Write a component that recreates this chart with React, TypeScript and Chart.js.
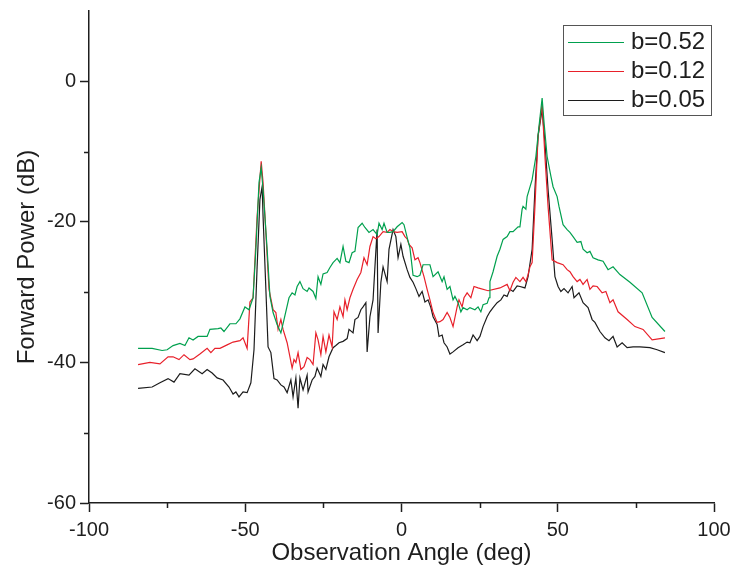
import React, { useEffect, useRef } from "react";
import { Chart, registerables } from "chart.js";

Chart.register(...registerables);

// ---------- data (angle in deg, forward power in dB) ----------
const seriesLabels = ["b=0.52", "b=0.12", "b=0.05"];
const seriesColors = ["#00a04e", "#e8202a", "#1c1c1c"];

const angleB052 = [
  -84.3, -79.8, -76.6, -75.0, -73.1, -70.9, -69.3, -68.0, -66.7, -65.1, -62.2, -61.3, -58.7, -57.8, -56.8, -54.9,
  -53.0, -51.7, -50.1, -48.8, -47.5, -46.6, -45.6, -44.9, -44.3, -43.0, -42.1, -41.1, -39.8, -38.6, -37.6, -36.0,
  -35.0, -34.1, -33.4, -32.5, -31.5, -30.2, -29.6, -28.3, -27.4, -26.7, -25.8, -25.1, -23.8, -22.9, -21.9, -20.6,
  -19.7, -18.7, -17.8, -16.8, -15.8, -14.9, -13.9, -12.6, -11.7, -10.4, -9.1, -7.8, -7.2, -6.2, -5.6, -4.6, -3.7,
  -2.7, -1.4, 0.2, 0.8, 1.8, 2.7, 3.7, 5.0, 5.9, 6.9, 9.1, 10.1, 11.7, 13.0, 13.6, 14.6, 15.5, 16.5, 17.1, 18.1,
  19.0, 19.7, 21.0, 21.9, 23.5, 24.5, 25.4, 26.1, 27.4, 28.0, 28.3, 29.3, 30.6, 31.5, 32.5, 33.8, 34.7, 35.7, 37.3,
  37.9, 38.6, 38.9, 39.8, 40.2, 41.8, 43.0, 44.0, 45.0, 45.6, 46.6, 47.8, 48.5, 49.8, 50.4, 51.7, 53.0, 53.9, 54.9,
  56.2, 57.4, 58.1, 59.4, 60.3, 61.3, 62.9, 64.5, 66.1, 67.7, 69.9, 73.1, 77.0, 80.2, 84.3,
];
const powerB052 = [
  -38.0, -38.0, -38.3, -38.2, -37.6, -37.3, -37.6, -36.5, -36.8, -36.3, -36.3, -35.3, -35.2, -35.1, -35.6, -34.5,
  -34.5, -33.8, -32.1, -32.5, -30.8, -23.9, -14.4, -12.3, -15.4, -23.9, -30.6, -32.9, -34.6, -35.8, -33.9, -30.8,
  -30.1, -30.4, -29.2, -28.5, -29.5, -29.9, -29.4, -29.9, -30.9, -27.8, -28.9, -27.4, -27.2, -26.5, -25.8, -25.2,
  -25.8, -23.5, -25.6, -25.8, -24.4, -24.2, -20.8, -20.2, -20.8, -21.5, -21.1, -21.8, -20.2, -21.1, -20.2, -21.5, -21.5,
  -21.4, -20.7, -20.1, -20.4, -22.2, -23.7, -27.6, -27.8, -27.6, -26.1, -26.1, -27.8, -27.1, -28.5, -27.8, -29.6, -29.2, -31.1, -30.6, -31.5,
  -32.8, -32.2, -32.5, -32.2, -32.5, -32.1, -32.8, -31.8, -31.6, -30.8, -28.5, -27.1, -24.9, -23.9, -22.5, -22.1, -21.4, -21.4, -20.7,
  -20.7, -18.2, -17.8, -18.2, -16.4, -14.0, -10.7, -6.4, -2.4, -5.8, -10.7, -13.5, -15.0, -16.4, -17.8, -20.4, -21.1, -21.5, -22.1,
  -22.9, -22.8, -23.9, -24.4, -24.2, -25.1, -25.4, -25.6, -26.8, -26.4, -27.5, -28.6, -30.1, -33.6, -35.6,
];

const angleB012 = [
  -84.3, -80.5, -77.3, -74.7, -73.1, -71.2, -69.6, -67.7, -66.7, -64.5, -62.2, -61.0, -59.7, -58.1, -55.8, -53.9,
  -51.7, -50.7, -49.4, -48.5, -47.5, -46.2, -44.9, -44.3, -43.4, -42.4, -41.1, -40.2, -39.5, -38.6, -37.9, -36.6,
  -35.7, -35.0, -34.4, -33.8, -33.1, -32.2, -31.2, -30.2, -29.3, -28.3, -27.4, -26.7, -25.8, -25.1, -24.2, -23.2,
  -22.2, -21.6, -20.6, -19.7, -18.7, -18.1, -17.4, -16.5, -15.5, -14.2, -13.0, -12.0, -11.0, -10.1, -9.1, -8.2,
  -7.2, -5.9, -4.6, -3.7, -2.7, -1.4, 0.2, 1.1, 1.8, 2.4, 3.4, 4.3, 5.3, 5.9, 7.2, 8.2, 9.1, 10.1, 11.4, 12.3,
  13.3, 14.6, 15.5, 16.5, 17.8, 18.4, 19.4, 20.0, 21.0, 22.2, 23.2, 24.5, 27.7, 31.5, 33.8, 34.7, 35.7, 36.6, 37.9,
  38.9, 39.8, 40.5, 41.1, 41.8, 42.7, 43.7, 45.0, 45.9, 46.9, 48.2, 49.8, 51.7, 53.0, 53.9, 54.9, 56.2, 57.1, 58.1,
  59.4, 60.3, 61.3, 62.6, 64.2, 65.4, 66.7, 67.7, 69.3, 72.2, 74.7, 77.3, 80.2, 84.3,
];
const powerB012 = [
  -40.3, -40.0, -40.2, -39.2, -39.2, -39.6, -38.9, -39.6, -39.5, -38.8, -38.0, -38.6, -38.0, -38.0, -37.5, -37.1,
  -36.9, -36.5, -38.0, -31.4, -30.8, -19.2, -11.4, -14.4, -21.5, -29.6, -32.5, -32.9, -35.3, -33.9, -35.3, -37.2,
  -39.2, -40.8, -39.6, -40.0, -38.6, -41.0, -40.6, -39.3, -39.6, -40.3, -35.8, -36.8, -38.9, -36.3, -38.5, -36.1,
  -37.8, -32.8, -33.9, -32.1, -33.5, -31.1, -32.5, -30.8, -29.6, -28.2, -27.2, -25.1, -26.1, -23.5, -22.1, -22.4,
  -22.1, -21.4, -21.5, -21.1, -21.4, -21.5, -21.4, -22.1, -22.4, -23.2, -23.7, -25.4, -25.1, -25.8, -27.8, -29.6, -31.1, -32.9, -34.3, -34.2,
  -33.9, -32.9, -33.6, -34.9, -32.1, -31.1, -32.1, -30.8, -30.1, -30.8, -29.2, -29.4, -29.8, -29.4, -28.9, -29.8, -28.6, -27.9, -28.5,
  -27.9, -28.5, -27.5, -26.4, -25.8, -17.8, -7.8, -3.3, -10.7, -17.8, -25.4, -25.8, -26.1, -26.8, -27.1, -27.8, -28.5, -28.2, -28.9,
  -28.2, -29.6, -29.1, -29.2, -30.1, -29.9, -31.5, -31.1, -32.8, -33.9, -34.9, -35.3, -36.8, -36.5,
];

const angleB005 = [
  -84.3, -79.8, -77.3, -74.7, -72.8, -70.9, -68.0, -66.1, -63.8, -62.2, -60.6, -59.0, -57.1, -55.2, -53.9, -53.0,
  -52.0, -50.7, -49.4, -48.2, -47.2, -46.2, -45.3, -44.6, -44.3, -43.4, -42.7, -41.8, -40.8, -39.8, -38.6, -37.6,
  -36.6, -35.4, -34.7, -33.8, -33.1, -32.5, -31.5, -30.2, -29.9, -28.6, -27.7, -27.0, -25.8, -25.1, -24.2, -23.2,
  -21.9, -21.0, -20.0, -18.7, -17.4, -16.8, -15.5, -14.9, -13.9, -13.0, -12.3, -11.4, -11.0, -10.1, -9.1, -8.5,
  -7.8, -7.5, -6.6, -5.9, -4.6, -4.0, -2.7, -1.8, -1.1, -0.2, 0.5, 1.8, 2.7, 3.7, 4.6, 5.6, 6.6, 7.5, 8.5, 9.4,
  10.1, 11.4, 12.0, 13.0, 13.6, 14.6, 15.5, 16.5, 18.1, 19.7, 21.0, 21.9, 22.9, 24.2, 25.1, 26.1, 27.4, 28.3, 29.3,
  30.6, 31.8, 32.8, 33.8, 34.7, 35.7, 37.0, 37.9, 39.5, 40.5, 41.8, 42.7, 43.7, 45.0, 45.9, 46.9, 48.2, 49.1, 50.1,
  51.0, 52.0, 53.3, 54.6, 55.2, 56.8, 58.1, 59.7, 61.0, 61.9, 63.5, 65.1, 66.4, 67.7, 69.0, 70.6, 72.2, 74.1, 76.3,
  79.5, 81.8, 84.3,
];
const powerB005 = [
  -43.7, -43.5, -42.9, -42.3, -42.8, -41.6, -41.8, -40.9, -41.6, -41.0, -41.5, -42.2, -42.5, -43.5, -44.5, -44.2,
  -44.9, -44.2, -44.3, -42.9, -38.2, -26.4, -16.8, -15.0, -19.2, -29.6, -37.8, -38.6, -42.3, -42.5, -43.2, -43.5,
  -44.3, -42.5, -44.9, -42.2, -46.5, -42.2, -43.9, -41.8, -44.2, -42.5, -42.0, -40.8, -42.0, -40.3, -41.0, -39.2,
  -37.9, -37.6, -37.2, -37.0, -36.6, -35.3, -35.8, -33.9, -33.6, -32.5, -32.1, -31.5, -38.5, -33.5, -31.1, -26.4,
  -21.1, -35.8, -28.6, -26.4, -28.5, -23.9, -21.1, -22.1, -25.1, -23.2, -24.9, -26.8, -27.9, -28.6, -29.5, -30.6, -29.9, -31.4, -31.1, -32.2,
  -33.5, -34.6, -36.3, -36.1, -37.2, -37.8, -38.8, -38.5, -37.9, -37.5, -37.1, -37.2, -36.1, -36.9, -36.3, -34.9, -33.5, -32.8, -32.2,
  -31.5, -31.1, -30.4, -30.6, -29.6, -29.9, -29.1, -29.2, -29.4, -27.8, -23.9, -15.4, -7.8, -4.0, -8.7, -15.4, -22.5, -27.8, -29.2,
  -29.9, -29.5, -30.1, -29.2, -30.8, -30.1, -31.5, -32.2, -33.9, -34.3, -35.6, -36.5, -36.9, -36.3, -37.8, -37.2, -37.9, -37.8, -37.8,
  -37.9, -38.2, -38.6,
];

const xMajorTicks = [-100, -50, 0, 50, 100];
const xMinorTicks = [-75, -25, 25, 75];
const yMajorTicks = [-60, -40, -20, 0];
const yMinorTicks = [-50, -30, -10];

const FONT = "'Liberation Sans', Arial, sans-serif";
const INK = "#1e1e1e";

const minorTickPlugin = {
  id: "minorTicks",
  afterDraw(chart: any) {
    const { ctx } = chart;
    const xs = chart.scales.x;
    const ys = chart.scales.y;
    ctx.save();
    ctx.strokeStyle = INK;
    ctx.lineWidth = 1.5;
    ctx.beginPath();
    xMinorTicks.forEach((v) => {
      const px = Math.round(xs.getPixelForValue(v)) + 0.5;
      ctx.moveTo(px, xs.top);
      ctx.lineTo(px, xs.top + 5);
    });
    yMinorTicks.forEach((v) => {
      const py = Math.round(ys.getPixelForValue(v)) + 0.5;
      ctx.moveTo(ys.right, py);
      ctx.lineTo(ys.right - 5, py);
    });
    ctx.stroke();
    ctx.restore();
  },
};

const boxLegendPlugin = {
  id: "boxLegend",
  afterDraw(chart: any) {
    const { ctx } = chart;
    const left = 563.5;
    const top = 25.5;
    const w = 148;
    const h = 90;
    ctx.save();
    ctx.fillStyle = "#ffffff";
    ctx.fillRect(left, top, w, h);
    ctx.strokeStyle = "#555555";
    ctx.lineWidth = 1;
    ctx.strokeRect(left, top, w, h);
    ctx.font = `24px ${FONT}`;
    ctx.textBaseline = "middle";
    ctx.textAlign = "left";
    chart.data.datasets.forEach((ds: any, i: number) => {
      const y = 42 + i * 29;
      ctx.strokeStyle = ds.borderColor;
      ctx.lineWidth = 1.2;
      ctx.beginPath();
      ctx.moveTo(568, y + 0.5);
      ctx.lineTo(624, y + 0.5);
      ctx.stroke();
      ctx.fillStyle = INK;
      ctx.fillText(ds.label, 631, y);
    });
    ctx.restore();
  },
};

export default function App() {
  const canvasRef = useRef<HTMLCanvasElement | null>(null);

  useEffect(() => {
    if (!canvasRef.current) return;
    const pairs = [
      [angleB052, powerB052],
      [angleB012, powerB012],
      [angleB005, powerB005],
    ];
    const chart = new Chart(canvasRef.current, {
      type: "line",
      data: {
        datasets: pairs.map(([xs, ys], i) => ({
          label: seriesLabels[i],
          data: xs.map((x, j) => ({ x, y: ys[j] })),
          borderColor: seriesColors[i],
          backgroundColor: seriesColors[i],
          borderWidth: 1.2,
          pointRadius: 0,
          tension: 0,
          fill: false,
        })),
      },
      options: {
        responsive: false,
        animation: false,
        layout: { padding: { top: 11, right: 18, left: 0, bottom: 0 } },
        plugins: {
          legend: { display: false },
          tooltip: { enabled: false },
        },
        scales: {
          x: {
            type: "linear",
            min: -100,
            max: 100,
            afterBuildTicks: (scale: any) => {
              scale.ticks = xMajorTicks.map((v) => ({ value: v }));
            },
            afterFit: (scale: any) => {
              scale.height = 68;
              scale.paddingLeft = 0;
              scale.paddingRight = 0;
            },
            grid: {
              drawOnChartArea: false,
              drawTicks: true,
              tickLength: 9,
              color: INK,
              tickWidth: 1.5,
            },
            border: { display: true, color: INK, width: 1.5 },
            ticks: {
              color: INK,
              font: { family: FONT, size: 20 },
              padding: 6,
              maxRotation: 0,
              autoSkip: false,
            },
            title: {
              display: true,
              text: "Observation Angle (deg)",
              color: INK,
              font: { family: FONT, size: 24 },
              padding: { top: 0, bottom: 3 },
            },
          },
          y: {
            type: "linear",
            min: -60,
            max: 10,
            afterBuildTicks: (scale: any) => {
              scale.ticks = yMajorTicks.map((v) => ({ value: v }));
            },
            afterFit: (scale: any) => {
              scale.width = 89;
              scale.paddingTop = 0;
              scale.paddingBottom = 0;
            },
            grid: {
              drawOnChartArea: false,
              drawTicks: true,
              tickLength: 9,
              color: INK,
              tickWidth: 1.5,
            },
            border: { display: true, color: INK, width: 1.5 },
            ticks: {
              color: INK,
              font: { family: FONT, size: 20 },
              padding: 4,
              autoSkip: false,
            },
            title: {
              display: true,
              text: "Forward Power (dB)",
              color: INK,
              font: { family: FONT, size: 24 },
              padding: { top: 13, bottom: 0 },
            },
          },
        },
      },
      plugins: [minorTickPlugin, boxLegendPlugin],
    });
    return () => chart.destroy();
  }, []);

  return (
    <div style={{ position: "fixed", left: 0, top: 0, width: 732, height: 571, background: "#fff" }}>
      <canvas ref={canvasRef} width={732} height={571} style={{ display: "block" }} />
    </div>
  );
}
